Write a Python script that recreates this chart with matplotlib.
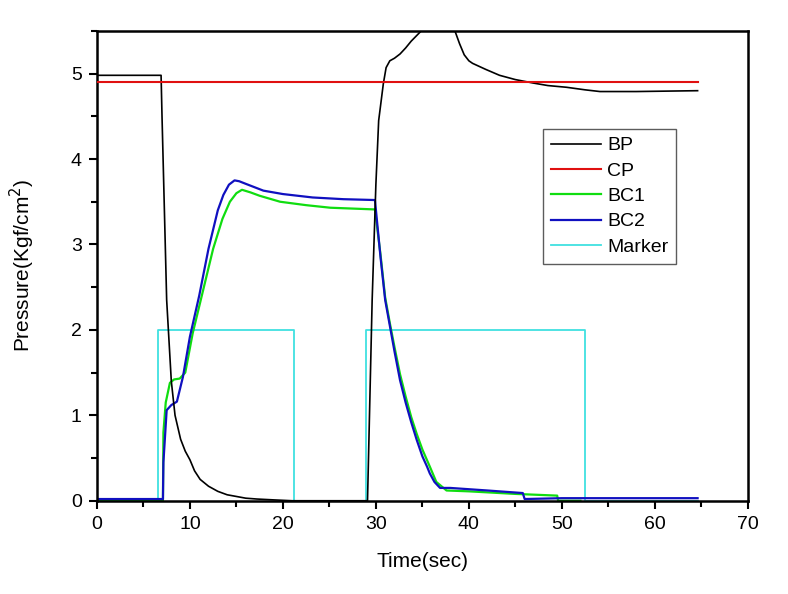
import matplotlib
matplotlib.use("Agg")
import matplotlib.pyplot as plt
from matplotlib.ticker import MultipleLocator

plt.rcParams['font.family'] = ['Liberation Sans', 'DejaVu Sans']

# BP - brake pipe pressure
bp_t = [0, 6.9, 7.0, 7.5, 8.0, 8.4, 9.0, 9.5, 10.0, 10.5, 11.1, 12.0, 13.0, 14.0, 15.0, 16.0,
        17.2, 19.0, 21.0, 29.1,
        29.6, 30.0, 30.3, 30.8, 31.1, 31.5, 32.0, 32.6, 33.2, 33.8, 34.7, 35.5, 36.5, 37.5,
        38.5, 39.0, 39.5, 40.0, 40.4, 41.0, 41.8, 43.3, 45.0, 46.9, 48.5, 50.5, 52.5, 54.1,
        58.0, 64.6]
bp_p = [4.98, 4.98, 4.5, 2.35, 1.4, 1.0, 0.72, 0.58, 0.48, 0.35, 0.25, 0.17, 0.11, 0.07, 0.05, 0.03,
        0.02, 0.01, 0.0, 0.0,
        2.35, 3.7, 4.45, 4.88, 5.07, 5.15, 5.18, 5.23, 5.3, 5.38, 5.48, 5.58, 5.64, 5.6,
        5.5, 5.35, 5.22, 5.15, 5.12, 5.09, 5.05, 4.98, 4.93, 4.89, 4.86, 4.84, 4.81, 4.79,
        4.79, 4.80]

# CP
cp_t = [0, 64.6]
cp_p = [4.9, 4.9]

# BC1
bc1_t = [0, 7.1, 7.15, 7.4, 7.85, 8.3, 8.9, 9.5, 10.3, 11.5, 12.5, 13.5, 14.3, 15.0, 15.6,
         16.5, 17.5, 19.7, 22.5, 25.1, 29.9,
         30.5, 31.0, 31.5, 32.0, 32.6, 33.2, 33.8, 34.4, 35.0, 35.8, 36.5, 37.6,
         40.0, 45.0, 49.5, 49.6, 52.0]
bc1_p = [0.0, 0.0, 0.8, 1.15, 1.38, 1.42, 1.43, 1.5, 1.96, 2.5, 2.95, 3.3, 3.5, 3.6, 3.64,
         3.61, 3.57, 3.5, 3.46, 3.43, 3.41,
         2.88, 2.38, 2.08, 1.8, 1.48, 1.22, 0.98, 0.78, 0.6, 0.4, 0.22, 0.12,
         0.11, 0.08, 0.06, 0.0, 0.0]

# BC2
bc2_t = [0, 7.1, 7.15, 7.5, 8.0, 8.6, 9.25, 10.0, 11.0, 12.0, 13.0, 13.6, 14.2, 14.8, 15.3,
         16.0, 17.9, 20.0, 23.2, 26.5, 29.9,
         30.5, 31.0, 31.5, 32.0, 32.6, 33.2, 33.8, 34.4, 35.0, 35.5, 35.8, 36.3, 36.9,
         38.0, 42.0, 45.8, 46.0, 50.0, 64.6]
bc2_p = [0.02, 0.02, 0.45, 1.06, 1.12, 1.16, 1.45, 1.92, 2.4, 2.95, 3.4, 3.58, 3.7, 3.75, 3.74,
         3.71, 3.63, 3.59, 3.55, 3.53, 3.52,
         2.85, 2.35, 2.05, 1.75, 1.41, 1.15, 0.92, 0.71, 0.52, 0.4, 0.32, 0.22, 0.15,
         0.15, 0.12, 0.09, 0.02, 0.03, 0.03]

# Marker
mk_t = [0, 6.6, 6.6, 21.2, 21.2, 28.9, 28.9, 52.5, 52.5, 64.6]
mk_p = [0, 0, 2, 2, 0, 0, 2, 2, 0, 0]

fig = plt.figure(figsize=(7.88, 5.94), dpi=100)
ax = fig.add_axes([0.123, 0.157, 0.826, 0.791])

ax.plot(mk_t, mk_p, color='#40e0e0', lw=1.3, label='Marker', zorder=1)
ax.plot(bp_t, bp_p, color='black', lw=1.2, label='BP', zorder=3)
ax.plot(cp_t, cp_p, color='#e01010', lw=1.5, label='CP', zorder=3)
ax.plot(bc1_t, bc1_p, color='#10dd10', lw=1.6, label='BC1', zorder=2)
ax.plot(bc2_t, bc2_p, color='#1010c0', lw=1.6, label='BC2', zorder=2)

ax.set_xlim(0, 70)
ax.set_ylim(0, 5.5)
ax.xaxis.set_major_locator(MultipleLocator(10))
ax.xaxis.set_minor_locator(MultipleLocator(5))
ax.yaxis.set_major_locator(MultipleLocator(1))
ax.yaxis.set_minor_locator(MultipleLocator(0.5))
ax.tick_params(which='major', direction='out', length=6, width=1.5, labelsize=14, pad=5)
ax.tick_params(which='minor', direction='out', length=4, width=1.5)
for s in ax.spines.values():
    s.set_linewidth(1.8)

ax.set_xlabel('Time(sec)', fontsize=15, labelpad=14)
ax.set_ylabel('Pressure(Kgf/cm$^2$)', fontsize=15, labelpad=24)

handles, labels = ax.get_legend_handles_labels()
order = ['BP', 'CP', 'BC1', 'BC2', 'Marker']
hmap = dict(zip(labels, handles))
leg = ax.legend([hmap[k] for k in order], order, loc='upper left',
                bbox_to_anchor=(0.670, 0.812), fontsize=14, frameon=True,
                fancybox=False, edgecolor='#333333', labelspacing=0.4,
                handlelength=2.6, handletextpad=0.3, borderpad=0.4)
leg.get_frame().set_linewidth(1.0)

fig.savefig('out.png', dpi=100)
